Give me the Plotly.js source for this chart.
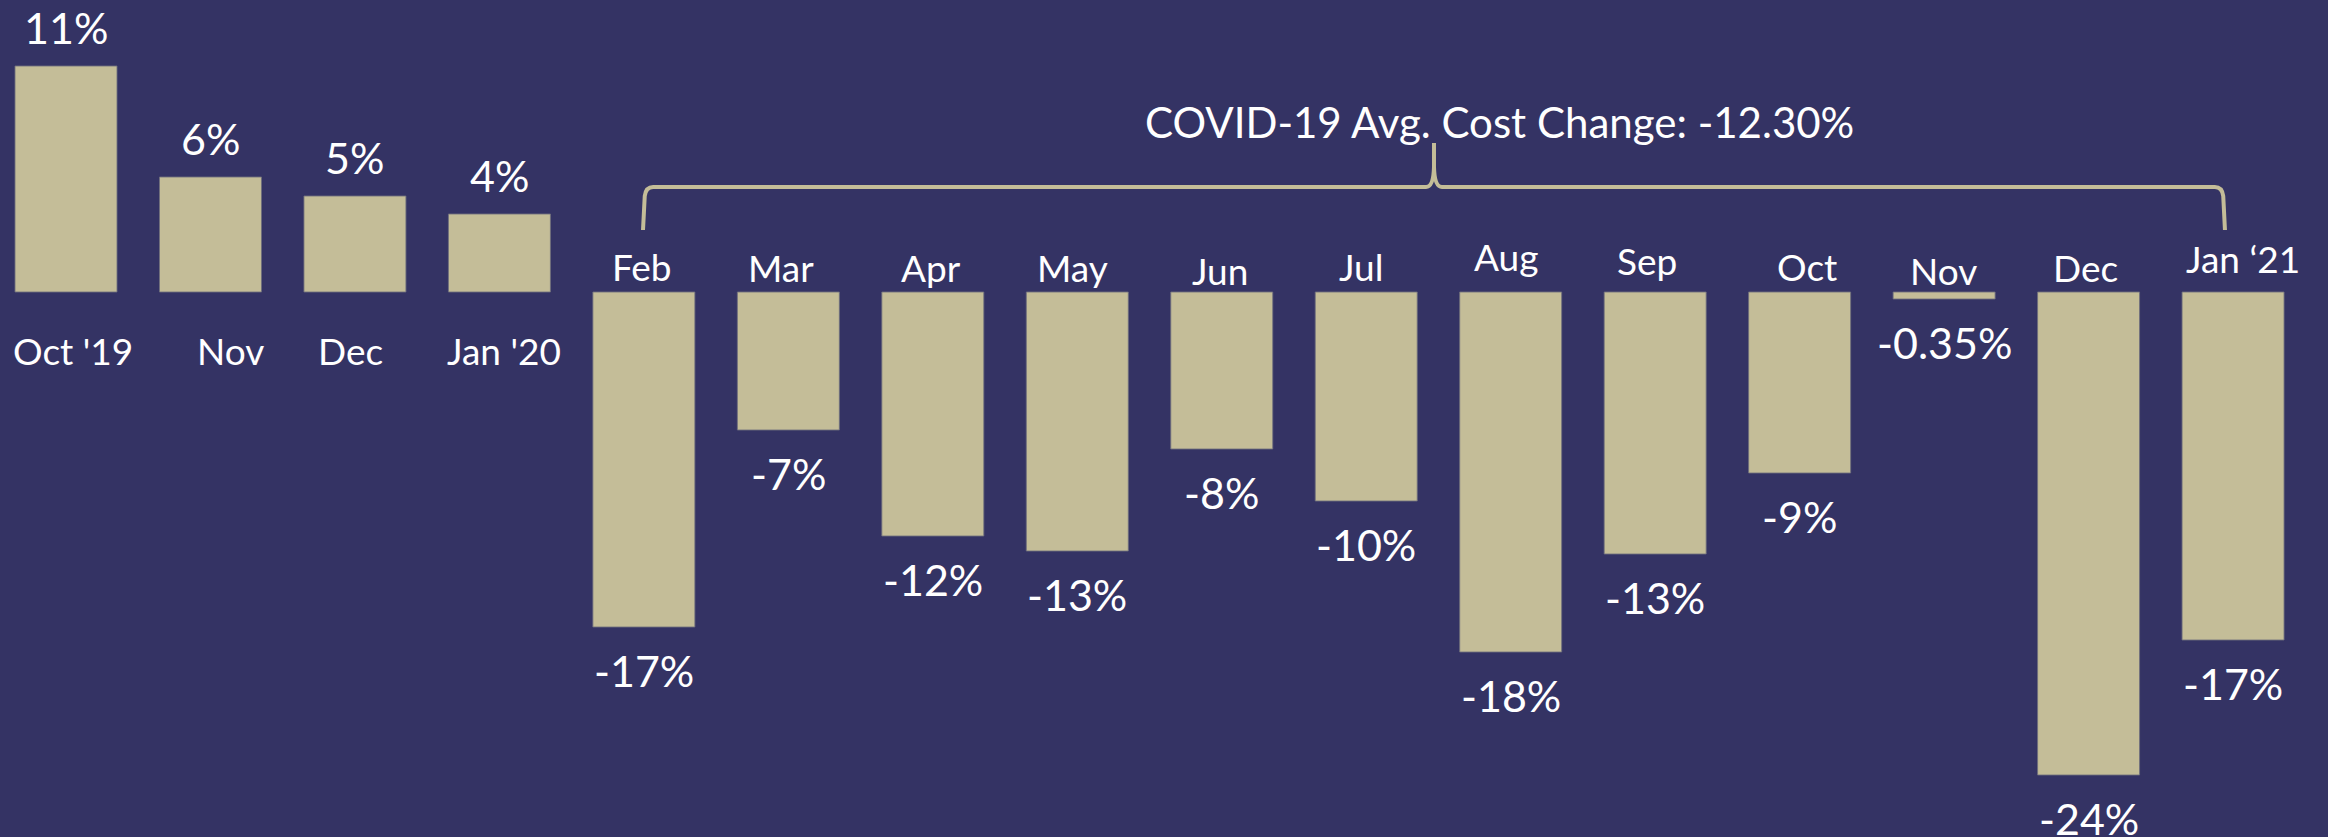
<!DOCTYPE html>
<html>
<head>
<meta charset="utf-8">
<script src="https://cdn.plot.ly/plotly-3.0.1.min.js"></script>
<style>
  html, body { margin: 0; padding: 0; background: #343364; }
  #chart { width: 2328px; height: 837px; }
</style>
</head>
<body>
<div id="chart"></div>
<script>
// ---- Data ----
const categories = ["Oct '19", "Nov", "Dec", "Jan '20", "Feb", "Mar", "Apr", "May", "Jun", "Jul", "Aug", "Sep", "Oct", "Nov", "Dec", "Jan \u201821"];
const costChange = [11.3, 5.75, 4.8, 3.9, -16.75, -6.9, -12.2, -12.95, -7.85, -10.45, -18.0, -13.1, -9.05, -0.35, -24.15, -17.4];
const valueLabels = ["11%", "6%", "5%", "4%", "-17%", "-7%", "-12%", "-13%", "-8%", "-10%", "-18%", "-13%", "-9%", "-0.35%", "-24%", "-17%"];
const covidStartIndex = 4;
const covidTitle = "COVID-19 Avg. Cost Change: -12.30%";

// ---- Styles ----
const BG = "#343364";
const BAR = "#c4bd98";
const FONT = "Lato, 'Open Sans', sans-serif";
const xIdx = categories.map((_, i) => i);

// per-label nudges (pixels) to mimic the reference placement
const catXShift = [7, 20, -4, 5, -2, -7, -2, -5, -2, -5, -5, -8, 7, -1, -3, 10];
const catYShift = [-58, -58, -58, -58, 25.5, 24.5, 24.5, 24.5, 21.5, 25.5, 35.5, 32, 25.5, 22, 24.5, 33.5];

const trace = {
  type: "bar",
  x: xIdx,
  y: costChange,
  width: 0.706,
  marker: { color: BAR, line: { color: "rgba(110,110,125,0.85)", width: 1 } },
  hoverinfo: "skip",
  cliponaxis: false
};

const annotations = [];
categories.forEach((c, i) => {
  annotations.push({
    x: i, y: 0, xref: "x", yref: "y", text: c, showarrow: false,
    xanchor: "center", yanchor: "middle",
    xshift: catXShift[i], yshift: catYShift[i],
    font: { family: FONT, size: 37, color: "#ffffff" }
  });
});
costChange.forEach((v, i) => {
  annotations.push({
    x: i, y: v, xref: "x", yref: "y", text: valueLabels[i], showarrow: false,
    xanchor: "center", yanchor: "middle",
    yshift: v >= 0 ? 39 : -43,
    font: { family: FONT, size: 43, color: "#ffffff" }
  });
});

// bracket spanning the COVID months
const L = covidStartIndex - 0.006;
const R = categories.length - 1 - 0.056;
const M = (L + R) / 2;
const yTip = 3.1, yH = 5.25, yPeak = 7.45;
const bracketPath =
  `M ${L},${yTip} L ${L + 0.012},${yH - 0.45} Q ${L + 0.02},${yH} ${L + 0.07},${yH} ` +
  `L ${M - 0.055},${yH} Q ${M - 0.004},${yH} ${M},${yH + 1.0} L ${M},${yPeak} ` +
  `M ${M},${yH + 1.0} Q ${M + 0.004},${yH} ${M + 0.055},${yH} ` +
  `L ${R - 0.07},${yH} Q ${R - 0.02},${yH} ${R - 0.012},${yH - 0.45} L ${R},${yTip}`;

annotations.push({
  x: M + 0.45, y: 8.5, xref: "x", yref: "y", text: covidTitle, showarrow: false,
  xanchor: "center", yanchor: "middle",
  font: { family: FONT, size: 42, color: "#ffffff" }
});

const layout = {
  width: 2328, height: 837,
  margin: { l: 0, r: 0, t: 0, b: 0, pad: 0 },
  paper_bgcolor: BG, plot_bgcolor: BG,
  showlegend: false,
  xaxis: { range: [-66 / 144.47, (2328 - 66) / 144.47], visible: false, fixedrange: true },
  yaxis: { range: [-27.25, 14.6], visible: false, fixedrange: true, zeroline: false },
  shapes: [{
    type: "path", xref: "x", yref: "y", path: bracketPath,
    line: { color: BAR, width: 4 }
  }],
  annotations: annotations
};

Plotly.newPlot("chart", [trace], layout, { displayModeBar: false, staticPlot: true });
</script>
</body>
</html>
